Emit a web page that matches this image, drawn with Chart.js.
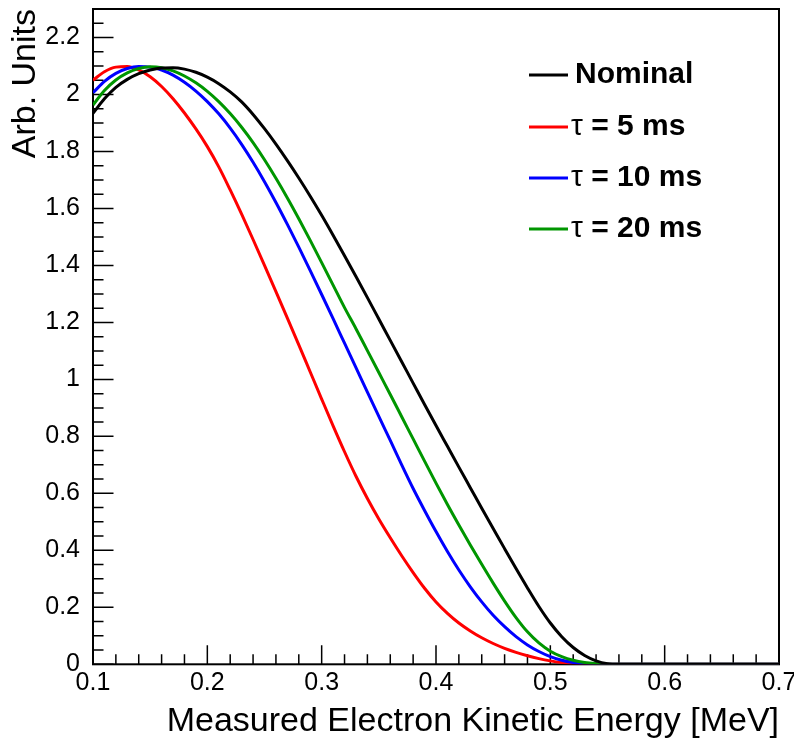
<!DOCTYPE html>
<html>
<head>
<meta charset="utf-8">
<script src="https://cdn.jsdelivr.net/npm/chart.js@4.4.1/dist/chart.umd.min.js"></script>
<style>
  html, body { margin: 0; padding: 0; background: #fff; }
  canvas { display: block; }
</style>
</head>
<body>
<canvas id="spectrumChart" width="794" height="739"></canvas>
<script>
//// Data

// energy bins [MeV]
const energies = [
  0.10, 0.11, 0.12, 0.13, 0.14, 0.15, 0.16, 0.17, 0.18, 0.19,
  0.20, 0.21, 0.22, 0.23, 0.24, 0.25, 0.26, 0.27, 0.28, 0.29,
  0.30, 0.31, 0.32, 0.33, 0.34, 0.35, 0.36, 0.37, 0.38, 0.39,
  0.40, 0.41, 0.42, 0.43, 0.44, 0.45, 0.46, 0.47, 0.48, 0.49,
  0.50, 0.51, 0.52, 0.53, 0.54, 0.55, 0.56, 0.57, 0.58, 0.59,
  0.60, 0.61, 0.62, 0.63, 0.64, 0.65, 0.66, 0.67, 0.68, 0.69,
  0.70
];

const nominal = [
  1.934, 1.985, 2.025, 2.053, 2.073, 2.086, 2.093, 2.094, 2.089, 2.078,
  2.061, 2.038, 2.009, 1.974, 1.930, 1.880, 1.826, 1.768, 1.707, 1.643,
  1.576, 1.506, 1.434, 1.361, 1.287, 1.212, 1.137, 1.062, 0.987, 0.912,
  0.838, 0.765, 0.692, 0.620, 0.548, 0.477, 0.406, 0.336, 0.268, 0.203,
  0.145, 0.097, 0.059, 0.031, 0.012, 0.002, 0, 0, 0, 0,
  0, 0, 0, 0, 0, 0, 0, 0, 0, 0,
  0
];

const tau5 = [
  2.050, 2.080, 2.096, 2.098, 2.086, 2.062, 2.028, 1.985, 1.935, 1.879,
  1.817, 1.746, 1.665, 1.580, 1.491, 1.400, 1.308, 1.215, 1.121, 1.026,
  0.931, 0.837, 0.746, 0.660, 0.582, 0.510, 0.444, 0.381, 0.322, 0.267,
  0.219, 0.179, 0.145, 0.117, 0.093, 0.073, 0.056, 0.042, 0.030, 0.020,
  0.012, 0.006, 0.002, 0, 0, 0, 0, 0, 0, 0,
  0, 0, 0, 0, 0, 0, 0, 0, 0, 0,
  0
];

const tau10 = [
  2.006, 2.046, 2.074, 2.091, 2.098, 2.096, 2.086, 2.068, 2.043, 2.012,
  1.975, 1.932, 1.882, 1.825, 1.762, 1.694, 1.621, 1.544, 1.464, 1.382,
  1.298, 1.213, 1.127, 1.041, 0.955, 0.870, 0.786, 0.700, 0.617, 0.540,
  0.466, 0.396, 0.331, 0.272, 0.219, 0.172, 0.132, 0.097, 0.068, 0.045,
  0.027, 0.014, 0.006, 0.001, 0, 0, 0, 0, 0, 0,
  0, 0, 0, 0, 0, 0, 0, 0, 0, 0,
  0
];

const tau20 = [
  1.963, 2.014, 2.051, 2.076, 2.091, 2.097, 2.094, 2.083, 2.065, 2.041,
  2.011, 1.975, 1.933, 1.885, 1.831, 1.771, 1.706, 1.637, 1.564, 1.488,
  1.410, 1.331, 1.252, 1.178, 1.101, 1.024, 0.947, 0.869, 0.791, 0.713,
  0.636, 0.561, 0.489, 0.419, 0.351, 0.285, 0.222, 0.164, 0.114, 0.075,
  0.046, 0.027, 0.014, 0.006, 0.002, 0, 0, 0, 0, 0,
  0, 0, 0, 0, 0, 0, 0, 0, 0, 0,
  0
];

const seriesLabels = ['Nominal', 'τ = 5 ms', 'τ = 10 ms', 'τ = 20 ms'];
const seriesColors = ['#000000', '#ff0000', '#0000ff', '#009600'];

// axis ticks
const xTickValues = [0.1, 0.2, 0.3, 0.4, 0.5, 0.6, 0.7];
const yTickValues = [0, 0.2, 0.4, 0.6, 0.8, 1, 1.2, 1.4, 1.6, 1.8, 2, 2.2];

const xTitle = 'Measured Electron Kinetic Energy [MeV]';
const yTitle = 'Arb. Units';

//// Helpers

const toPoints = (values) => energies.map((e, i) => ({ x: e, y: values[i] }));
const fmtTick = (v) => String(Number(v.toFixed(2)));

// ROOT style frame with ticks pointing inward
const frameTicks = {
  id: 'frameTicks',
  beforeDatasetsDraw(chart) {
    const { ctx, chartArea: a, scales: { x, y } } = chart;
    ctx.save();
    ctx.strokeStyle = '#000';

    ctx.lineWidth = 1.5;
    ctx.beginPath();
    // x minor every 0.02, major every 0.1
    for (let i = 0; i <= 30; i++) {
      const px = x.getPixelForValue(0.1 + i * 0.02);
      const len = i % 5 === 0 ? 19 : 10;
      ctx.moveTo(px, a.bottom);
      ctx.lineTo(px, a.bottom - len);
    }
    // y minor every 0.05, major every 0.2
    for (let i = 0; i <= 46; i++) {
      const py = y.getPixelForValue(i * 0.05);
      const len = i % 4 === 0 ? 20.5 : 10.5;
      ctx.moveTo(a.left, py);
      ctx.lineTo(a.left + len, py);
    }
    ctx.stroke();

    ctx.lineWidth = 2;
    ctx.strokeRect(a.left, a.top, a.right - a.left, a.bottom - a.top);
    ctx.restore();
  }
};

// legend box inside the frame
const insideLegend = {
  id: 'insideLegend',
  afterDraw(chart) {
    const { ctx, chartArea: a } = chart;
    const lineX0 = a.left + 436;
    const lineX1 = a.left + 475;
    const textX = a.left + 478;
    const rowY = [75, 127, 178, 229];
    ctx.save();
    ctx.textBaseline = 'middle';
    ctx.textAlign = 'left';
    ctx.fillStyle = '#000';
    chart.data.datasets.forEach((ds, i) => {
      const yy = rowY[i];
      ctx.strokeStyle = ds.borderColor;
      ctx.lineWidth = 3;
      ctx.beginPath();
      ctx.moveTo(lineX0, yy);
      ctx.lineTo(lineX1, yy);
      ctx.stroke();

      let tx = textX;
      let label = ds.label;
      if (label.startsWith('τ')) {
        ctx.font = '30px "Liberation Sans", Arial, sans-serif';
        ctx.fillText('τ', tx, yy);
        tx += ctx.measureText('τ').width;
        label = label.slice(1);
      } else {
        tx += 4;
      }
      ctx.font = 'bold 30px "Liberation Sans", Arial, sans-serif';
      ctx.fillText(label, tx, yy);
    });
    ctx.restore();
  }
};

//// Chart

const chartInitial = () => {
  const canvas = document.getElementById('spectrumChart');
  Chart.defaults.font.family = '"Liberation Sans", Arial, sans-serif';
  Chart.defaults.color = '#000';

  const seriesValues = [nominal, tau5, tau10, tau20];
  const drawOrder = [0, 3, 2, 1];

  new Chart(canvas, {
    type: 'line',
    data: {
      datasets: seriesValues.map((vals, i) => ({
        label: seriesLabels[i],
        data: toPoints(vals),
        borderColor: seriesColors[i],
        backgroundColor: seriesColors[i],
        borderWidth: 3,
        pointRadius: 0,
        cubicInterpolationMode: 'monotone',
        fill: false,
        order: drawOrder[i]
      }))
    },
    options: {
      responsive: false,
      animation: false,
      devicePixelRatio: 1,
      layout: { padding: { left: 3, top: 9, right: 15, bottom: 0 } },
      plugins: {
        legend: { display: false },
        tooltip: { enabled: false }
      },
      scales: {
        x: {
          type: 'linear',
          min: 0.1,
          max: 0.7,
          afterBuildTicks: s => { s.ticks = xTickValues.map(v => ({ value: v })); },
          afterFit: s => { s.paddingLeft = 0; s.paddingRight = 0; },
          grid: { display: false, drawTicks: false },
          border: { display: false },
          ticks: {
            padding: 0,
            maxRotation: 0,
            callback: fmtTick,
            font: { size: 25, lineHeight: 1.52 },
            color: '#000'
          },
          title: {
            display: true,
            text: xTitle,
            align: 'end',
            color: '#000',
            font: { size: 34, lineHeight: 1.05 },
            padding: { top: 1, bottom: 0 }
          }
        },
        y: {
          type: 'linear',
          min: 0,
          max: 2.3,
          afterBuildTicks: s => { s.ticks = yTickValues.map(v => ({ value: v })); },
          afterFit: s => { s.paddingTop = 0; s.paddingBottom = 0; s.width = 90; },
          grid: { display: false, drawTicks: false },
          border: { display: false },
          ticks: {
            padding: 13,
            callback: fmtTick,
            font: { size: 25 },
            color: '#000'
          },
          title: {
            display: true,
            text: yTitle,
            align: 'end',
            color: '#000',
            font: { size: 34, lineHeight: 1.05 },
            padding: { top: 5, bottom: 1.5 }
          }
        }
      }
    },
    plugins: [frameTicks, insideLegend]
  });
};

window.onload = () => {
  chartInitial();
};
</script>
</body>
</html>
